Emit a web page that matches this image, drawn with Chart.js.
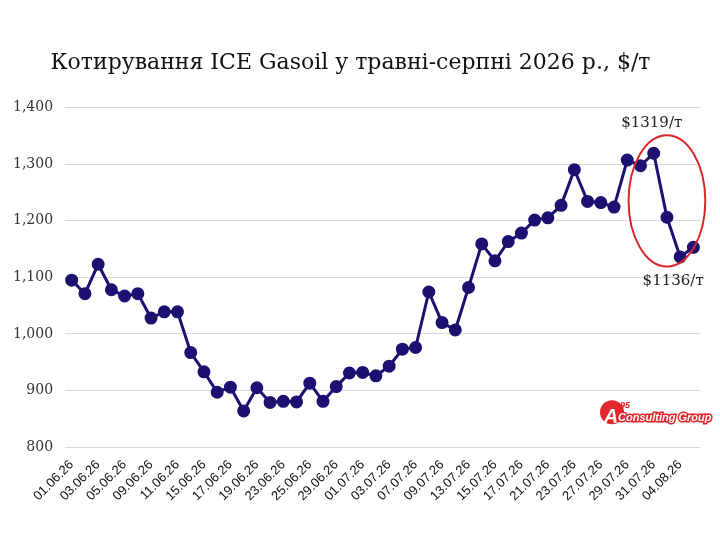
<!DOCTYPE html>
<html>
<head>
<meta charset="utf-8">
<script src="https://cdn.jsdelivr.net/npm/chart.js@4.4.1/dist/chart.umd.min.js"></script>
<style>
  html, body { margin: 0; padding: 0; background: #fff; }
  #wrap { width: 720px; height: 540px; }
</style>
</head>
<body>
<div id="wrap"><canvas id="Canvas" width="720" height="540"></canvas></div>
<script>
// trading days, June-August 2026
const dates = [
  "01.06.26","02.06.26","03.06.26","04.06.26","05.06.26","08.06.26","09.06.26","10.06.26",
  "11.06.26","12.06.26","15.06.26","16.06.26","17.06.26","18.06.26","19.06.26","22.06.26",
  "23.06.26","24.06.26","25.06.26","26.06.26","29.06.26","30.06.26","01.07.26","02.07.26",
  "03.07.26","06.07.26","07.07.26","08.07.26","09.07.26","10.07.26","13.07.26","14.07.26",
  "15.07.26","16.07.26","17.07.26","20.07.26","21.07.26","22.07.26","23.07.26","24.07.26",
  "27.07.26","28.07.26","29.07.26","30.07.26","31.07.26","03.08.26","04.08.26","05.08.26"
];
const gasoil = [
  1095, 1071, 1123, 1078, 1067, 1071, 1028, 1039,
  1039, 967, 933, 897, 906, 864, 905, 879,
  881, 880, 913, 881, 907, 931, 932, 926,
  943, 973, 976, 1074, 1020, 1007, 1082, 1159,
  1129, 1163, 1178, 1201, 1205, 1227, 1290, 1234,
  1232, 1224, 1307, 1297, 1319, 1206, 1136, 1153
];
const yTicks = [800, 900, 1000, 1100, 1200, 1300, 1400];
const notes = [
  { idx: 44, text: "$1319/т" },
  { idx: 46, text: "$1136/т" }
];

const navy = "#1b1170";

const extras = {
  id: "extras",
  afterDatasetsDraw(chart) {
    const c = chart.ctx;
    const x = chart.scales.x, y = chart.scales.y;
    const step = x.getPixelForValue(1) - x.getPixelForValue(0);

    // red ellipse round the last days
    const cx = x.getPixelForValue(45);
    const cy = y.getPixelForValue(1235);
    const ry = Math.abs(y.getPixelForValue(1351) - cy);
    c.save();
    c.strokeStyle = "#d9262c";
    c.lineWidth = 2;
    c.beginPath();
    c.ellipse(cx, cy, step * 2.9, ry, 0, 0, Math.PI * 2);
    c.stroke();

    // price notes
    c.fillStyle = "#222";
    c.font = "15px 'DejaVu Serif'";
    c.textAlign = "center";
    c.textBaseline = "middle";
    c.fillText(notes[0].text, x.getPixelForValue(notes[0].idx) - 2, y.getPixelForValue(gasoil[notes[0].idx]) - 30);
    c.fillText(notes[1].text, x.getPixelForValue(notes[1].idx) - 7, y.getPixelForValue(gasoil[notes[1].idx]) + 24);

    // logo
    const lx = x.getPixelForValue(41) - 2, ly = y.getPixelForValue(858);
    c.fillStyle = "#e3262b";
    c.beginPath();
    c.arc(lx, ly - 2, 12, 0, Math.PI * 2);
    c.fill();
    c.fillStyle = "#fff";
    c.font = "italic bold 20px 'Liberation Sans'";
    c.textAlign = "center";
    c.fillText("A", lx - 1, ly + 3);
    c.fillStyle = "#e3262b";
    c.font = "italic bold 9px 'Liberation Sans'";
    c.textAlign = "left";
    c.fillText("95", lx + 8, ly - 9);
    c.font = "italic bold 11px 'Liberation Sans'";
    c.strokeStyle = "#e3262b";
    c.lineWidth = 3;
    c.strokeText("Consulting Group", lx + 6, ly + 4);
    c.fillStyle = "#fff";
    c.fillText("Consulting Group", lx + 6, ly + 4);
    c.restore();
  }
};

new Chart(document.getElementById("Canvas").getContext("2d"), {
  type: "line",
  data: {
    labels: dates,
    datasets: [{
      data: gasoil,
      borderColor: navy,
      backgroundColor: navy,
      borderWidth: 3,
      pointRadius: 5,
      pointBackgroundColor: navy,
      pointBorderColor: navy,
      tension: 0
    }]
  },
  options: {
    responsive: false,
    animation: false,
    layout: { padding: { top: 50, left: 1, right: 20, bottom: 34 } },
    plugins: {
      legend: { display: false },
      tooltip: { enabled: false },
      title: {
        display: true,
        text: "Котирування ICE Gasoil у травні-серпні 2026 р., $/т",
        color: "#111",
        font: { family: "'DejaVu Serif'", size: 22, weight: "normal" },
        padding: { top: 0, bottom: 31 }
      }
    },
    scales: {
      x: {
        offset: true,
        grid: { display: false },
        border: { display: false },
        ticks: {
          autoSkip: false,
          maxRotation: 45,
          minRotation: 45,
          color: "#111",
          padding: 2,
          font: { family: "'Liberation Sans'", size: 13 },
          callback: function (v, i) { return i % 2 === 0 ? dates[i] : ""; }
        }
      },
      y: {
        min: yTicks[0],
        max: yTicks[yTicks.length - 1],
        afterBuildTicks(axis) { axis.ticks = yTicks.map(v => ({ value: v })); },
        grid: { color: "#d9d9d9", lineWidth: 1, drawTicks: false },
        border: { display: false },
        ticks: {
          color: "#333",
          padding: 12,
          font: { family: "'DejaVu Serif'", size: 14 },
          callback: v => v.toLocaleString("en-US")
        }
      }
    }
  },
  plugins: [extras]
});
</script>
</body>
</html>
